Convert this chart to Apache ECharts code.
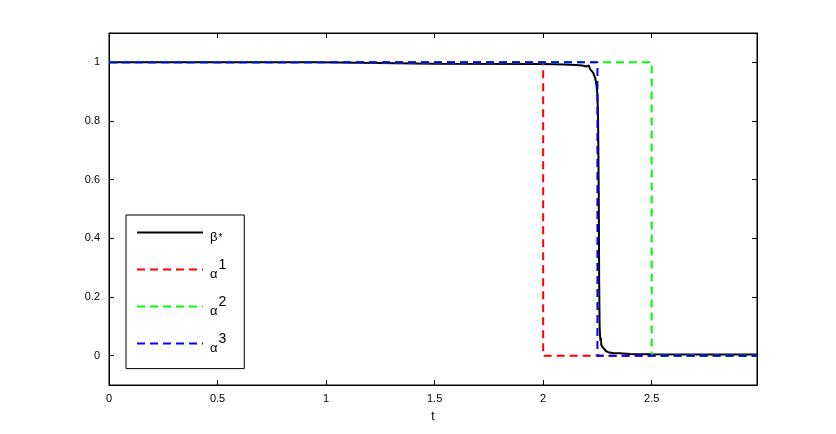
<!DOCTYPE html>
<html><head><meta charset="utf-8">
<script src="https://cdn.jsdelivr.net/npm/echarts@6/dist/echarts.min.js"></script>
<style>html,body{margin:0;padding:0;background:#fff}#c{width:836px;height:434px}</style>
</head><body><div id="c"></div>
<script>
// Data
const xTicks = [0, 0.5, 1, 1.5, 2, 2.5];
const yTicks = [0, 0.2, 0.4, 0.6, 0.8, 1];
const tMax = 2.985;
const betaT = [0, 0.965, 0.967, 1.5, 2.0, 2.1, 2.15, 2.18, 2.2, 2.21, 2.215, 2.22, 2.23, 2.24, 2.245, 2.25, 2.253, 2.256, 2.258, 2.26, 2.262, 2.264, 2.266, 2.268, 2.27, 2.275, 2.28, 2.29, 2.3, 2.32, 2.35, 2.4, 2.5, 2.7, 2.985];
const betaV = [1, 1, 0.996, 0.995, 0.994, 0.993, 0.991, 0.989, 0.986, 0.99, 0.978, 0.976, 0.965, 0.945, 0.925, 0.89, 0.8, 0.55, 0.25, 0.1, 0.07, 0.05, 0.06, 0.035, 0.04, 0.028, 0.022, 0.015, 0.012, 0.009, 0.008, 0.006, 0.005, 0.004, 0.004];
const alpha1T = [0, 2, 2, tMax];
const alpha1V = [1, 1, 0, 0];
const alpha2T = [0, 2.5, 2.5, tMax];
const alpha2V = [1, 1, 0, 0];
const alpha3T = [0, 2.25, 2.25, tMax];
const alpha3V = [1, 1, 0, 0];

const zip = (a, b) => a.map((v, i) => [v, b[i]]);
const font = 'Liberation Sans, Arial, sans-serif';
const chart = echarts.init(document.getElementById('c'), null, {renderer: 'canvas'});
const axisCommon = {
  axisLine: {show: true, onZero: false, lineStyle: {color: '#000', width: 1}},
  axisTick: {show: true, inside: true, length: 5, lineStyle: {color: '#000'}},
  splitLine: {show: false}
};
const mk = (name, t, v, color, type) => ({
  name, type: 'line', data: zip(t, v), symbol: 'none', animation: false,
  lineStyle: {color, width: 2, type}, itemStyle: {color}
});
chart.setOption({
  animation: false,
  grid: {left: 109, right: 79, top: 33, bottom: 49, show: true, borderColor: '#000', borderWidth: 1},
  xAxis: [
    Object.assign({}, axisCommon, {type: 'value', min: 0, max: tMax, position: 'bottom',
      name: 't', nameLocation: 'middle', nameGap: 26, nameTextStyle: {fontFamily: font, fontSize: 12, color: '#000'},
      axisTick: Object.assign({}, axisCommon.axisTick, {customValues: xTicks}),
      axisLabel: {customValues: xTicks, color: '#000', fontFamily: font, fontSize: 11, margin: 8}}),
    Object.assign({}, axisCommon, {type: 'value', min: 0, max: tMax, position: 'top',
      axisTick: Object.assign({}, axisCommon.axisTick, {customValues: xTicks}),
      axisLabel: {show: false}})
  ],
  yAxis: [
    Object.assign({}, axisCommon, {type: 'value', min: -0.1, max: 1.1, position: 'left',
      axisTick: Object.assign({}, axisCommon.axisTick, {customValues: yTicks}),
      axisLabel: {customValues: yTicks, color: '#000', fontFamily: font, fontSize: 11, margin: 9}}),
    Object.assign({}, axisCommon, {type: 'value', min: -0.1, max: 1.1, position: 'right',
      axisTick: Object.assign({}, axisCommon.axisTick, {customValues: yTicks}),
      axisLabel: {show: false}})
  ],
  legend: {
    orient: 'vertical', left: 126, top: 215,
    padding: [12, 18, 14, 10],
    borderColor: '#000', borderWidth: 1, backgroundColor: '#fff',
    itemWidth: 66, itemHeight: 14, itemGap: 15,
    itemStyle: {opacity: 0},
    data: ['beta', 'a1', 'a2', 'a3'],
    formatter: function (n) {
      if (n === 'beta') return '{bb|β}{st|*}{h|\u200b}';
      return '{b|α}{s|' + n.slice(1) + '}{h|\u200b}';
    },
    textStyle: {
      color: '#000', fontFamily: font, fontSize: 13,
      rich: {
        b: {fontFamily: font, fontSize: 13, lineHeight: 13, color: '#000', verticalAlign: 'bottom', padding: [0, 0, 0, 2]},
        bb: {fontFamily: font, fontSize: 13, lineHeight: 18, color: '#000', verticalAlign: 'bottom', padding: [0, 0, 0, 2]},
        s: {fontFamily: font, fontSize: 14, lineHeight: 18, color: '#000', verticalAlign: 'top', padding: [0, 0, 0, 1]},
        st: {fontFamily: font, fontSize: 10, lineHeight: 14, color: '#000', verticalAlign: 'bottom', padding: [0, 0, 0, 1]},
        h: {fontFamily: font, fontSize: 10, lineHeight: 22, color: '#000', verticalAlign: 'middle'}
      }
    }
  },
  series: [
    mk('beta', betaT, betaV, '#000', 'solid'),
    mk('a1', alpha1T, alpha1V, '#ff0000', [8, 5]),
    mk('a2', alpha2T, alpha2V, '#00ff00', [8, 5]),
    mk('a3', alpha3T, alpha3V, '#0000ff', [8, 5])
  ]
});
</script></body></html>
